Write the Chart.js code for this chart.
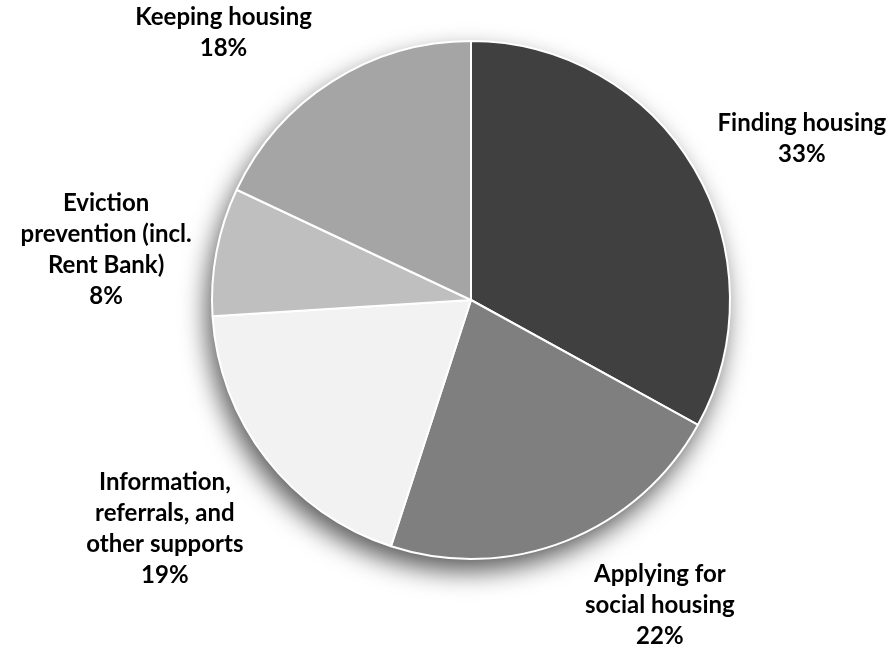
<!DOCTYPE html>
<html>
<head>
<meta charset="utf-8">
<script src="https://cdn.jsdelivr.net/npm/chart.js@4.4.0/dist/chart.umd.min.js"></script>
<style>
  html, body { margin: 0; padding: 0; background: #fff; }
  #wrap { width: 890px; height: 646px; position: relative; }
</style>
</head>
<body>
<div id="wrap"><canvas id="myChart" width="890" height="646"></canvas></div>
<script>
// label lines for each slice, clockwise from 12 o'clock
const categories = [
  ['Finding housing'],
  ['Applying for', 'social housing'],
  ['Information,', 'referrals, and', 'other supports'],
  ['Eviction', 'prevention (incl.', 'Rent Bank)'],
  ['Keeping housing']
];
const shares = [33, 22, 19, 8, 18];
const sliceColors = ['#404040', '#7f7f7f', '#f2f2f2', '#bfbfbf', '#a5a5a5'];

const labelFont = '700 24px Lato';
const lineH = 31;

// soft drop shadow under the whole pie
const pieShadow = {
  id: 'pieShadow',
  beforeDatasetsDraw(chart) {
    const arc = chart.getDatasetMeta(0).data[0];
    if (!arc) return;
    const ctx = chart.ctx;
    ctx.save();
    ctx.shadowColor = 'rgba(0,0,0,0.65)';
    ctx.shadowBlur = 26;
    ctx.shadowOffsetX = -5;
    ctx.shadowOffsetY = 12;
    ctx.fillStyle = '#fff';
    ctx.beginPath();
    ctx.arc(arc.x, arc.y, arc.outerRadius, 0, Math.PI * 2);
    ctx.fill();
    ctx.restore();
  }
};

// outside-end labels: box sits just beyond the slice's mid angle
const outsideLabels = {
  id: 'outsideLabels',
  afterDatasetsDraw(chart) {
    const ctx = chart.ctx;
    const meta = chart.getDatasetMeta(0);
    ctx.save();
    ctx.font = labelFont;
    ctx.fillStyle = '#000';
    ctx.textAlign = 'center';
    ctx.textBaseline = 'middle';
    meta.data.forEach((arc, i) => {
      const lines = categories[i].concat([shares[i] + '%']);
      const mid = (arc.startAngle + arc.endAngle) / 2;
      const sx = Math.cos(mid), sy = Math.sin(mid);
      const r = arc.outerRadius + 10;
      const ax = arc.x + sx * r, ay = arc.y + sy * r;
      const w = Math.max(...lines.map(l => ctx.measureText(l).width));
      const h = lines.length * lineH;
      const g = 15;
      const cx = sx >= 0 ? ax + g + w / 2 : ax - g - w / 2;
      const f = Math.min(1, Math.max(0, (Math.abs(sy) - 0.3) / 0.35)) * Math.sign(sy);
      const cy = ay + f * (h / 2 + 9);
      lines.forEach((l, k) => {
        ctx.fillText(l, cx, cy - h / 2 + lineH / 2 + k * lineH);
      });
    });
    ctx.restore();
  }
};

new Chart(document.getElementById('myChart').getContext('2d'), {
  type: 'pie',
  data: {
    labels: categories.map(c => c.join(' ')),
    datasets: [{
      data: shares,
      backgroundColor: sliceColors,
      borderColor: '#ffffff',
      borderWidth: 2
    }]
  },
  options: {
    responsive: false,
    animation: false,
    layout: { padding: { left: 211, right: 159, top: 40, bottom: 86 } },
    plugins: {
      legend: { display: false },
      tooltip: { enabled: false }
    }
  },
  plugins: [pieShadow, outsideLabels]
});
</script>
</body>
</html>
